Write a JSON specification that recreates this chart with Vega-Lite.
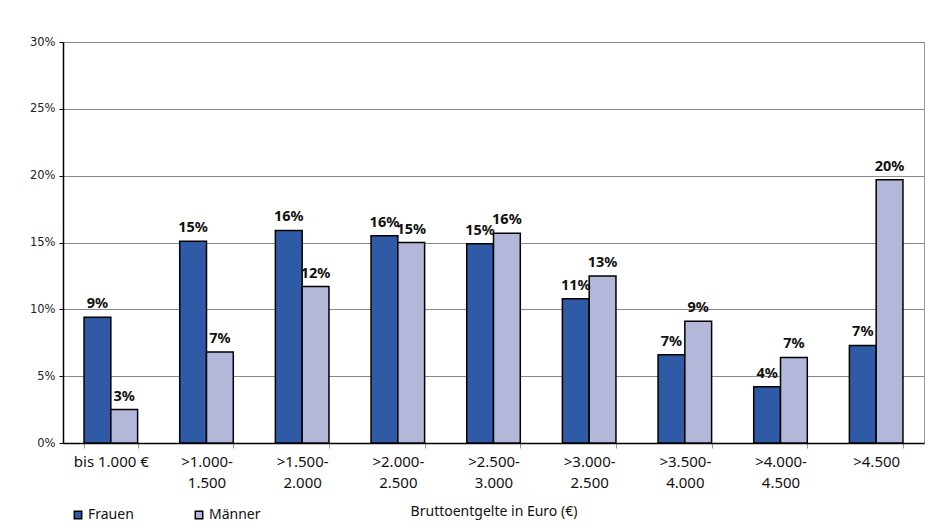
{
  "$schema": "https://vega.github.io/schema/vega-lite/v6.json",
  "width": 861,
  "height": 401,
  "autosize": "none",
  "padding": {"left": 63, "top": 42, "right": 15, "bottom": 89},
  "background": "white",
  "config": {
    "view": {"stroke": "#999999", "strokeWidth": 1},
    "font": "Noto Sans"
  },
  "data": {
    "values": [
      {"cat": "bis 1.000 €", "sex": "Frauen", "v": 9.4, "label": "9%"},
      {"cat": "bis 1.000 €", "sex": "Männer", "v": 2.5, "label": "3%"},
      {"cat": ">1.000-|1.500", "sex": "Frauen", "v": 15.1, "label": "15%"},
      {"cat": ">1.000-|1.500", "sex": "Männer", "v": 6.8, "label": "7%"},
      {"cat": ">1.500-|2.000", "sex": "Frauen", "v": 15.9, "label": "16%"},
      {"cat": ">1.500-|2.000", "sex": "Männer", "v": 11.7, "label": "12%"},
      {"cat": ">2.000-|2.500", "sex": "Frauen", "v": 15.5, "label": "16%"},
      {"cat": ">2.000-|2.500", "sex": "Männer", "v": 15.0, "label": "15%"},
      {"cat": ">2.500-|3.000", "sex": "Frauen", "v": 14.9, "label": "15%"},
      {"cat": ">2.500-|3.000", "sex": "Männer", "v": 15.7, "label": "16%"},
      {"cat": ">3.000-|2.500", "sex": "Frauen", "v": 10.8, "label": "11%"},
      {"cat": ">3.000-|2.500", "sex": "Männer", "v": 12.5, "label": "13%"},
      {"cat": ">3.500-|4.000", "sex": "Frauen", "v": 6.6, "label": "7%"},
      {"cat": ">3.500-|4.000", "sex": "Männer", "v": 9.1, "label": "9%"},
      {"cat": ">4.000-|4.500", "sex": "Frauen", "v": 4.2, "label": "4%"},
      {"cat": ">4.000-|4.500", "sex": "Männer", "v": 6.4, "label": "7%"},
      {"cat": ">4.500", "sex": "Frauen", "v": 7.3, "label": "7%"},
      {"cat": ">4.500", "sex": "Männer", "v": 19.7, "label": "20%"}
    ]
  },
  "encoding": {
    "x": {
      "field": "cat",
      "type": "nominal",
      "sort": null,
      "scale": {"paddingInner": 0.44, "paddingOuter": 0.22},
      "axis": {
        "title": "Bruttoentgelte in Euro (€)",
        "titleFont": "Noto Sans",
        "titleFontSize": 14,
        "titleFontWeight": "normal",
        "titleColor": "#111111",
        "titlePadding": 14,
        "labelAngle": 0,
        "labelFont": "Noto Sans",
        "labelFontSize": 15,
        "labelColor": "#111111",
        "labelPadding": 6,
        "labelLineHeight": 21,
        "labelExpr": "split(datum.label, '|')",
        "domainColor": "#000000",
        "domainWidth": 1.5,
        "tickBand": "extent",
        "tickColor": "#999999",
        "tickSize": 5,
        "grid": false
      }
    },
    "xOffset": {"field": "sex", "type": "nominal", "sort": ["Frauen", "Männer"]},
    "y": {
      "field": "v",
      "type": "quantitative",
      "scale": {"domain": [0, 30], "nice": false},
      "axis": {
        "title": null,
        "values": [0, 5, 10, 15, 20, 25, 30],
        "labelExpr": "datum.value + '%'",
        "labelFont": "DejaVu Sans",
        "labelFontSize": 11.5,
        "labelColor": "#222222",
        "labelPadding": 4,
        "domainColor": "#000000",
        "domainWidth": 1.5,
        "tickColor": "#000000",
        "tickSize": 4,
        "grid": true,
        "gridColor": "#888888",
        "gridWidth": 1
      }
    }
  },
  "layer": [
    {
      "mark": {"type": "bar", "stroke": "#000000", "strokeWidth": 1.5},
      "encoding": {
        "color": {
          "field": "sex",
          "type": "nominal",
          "sort": ["Frauen", "Männer"],
          "scale": {"domain": ["Frauen", "Männer"], "range": ["#2E5AA6", "#B3B8DB"]},
          "legend": {
            "title": null,
            "orient": "none",
            "legendX": 8,
            "legendY": 466,
            "direction": "horizontal",
            "symbolType": "square",
            "symbolSize": 55,
            "symbolStrokeColor": "#000000",
            "symbolStrokeWidth": 1.5,
            "symbolOffset": 0,
            "labelFont": "Noto Sans",
            "labelFontSize": 14,
            "labelColor": "#111111",
            "labelOffset": 3,
            "columnPadding": 58
          }
        }
      }
    },
    {
      "mark": {"type": "text", "dy": -9, "baseline": "alphabetic", "fontWeight": "bold", "fontSize": 14.5, "font": "Noto Sans", "color": "#111111"},
      "encoding": {"text": {"field": "label"}}
    }
  ]
}
